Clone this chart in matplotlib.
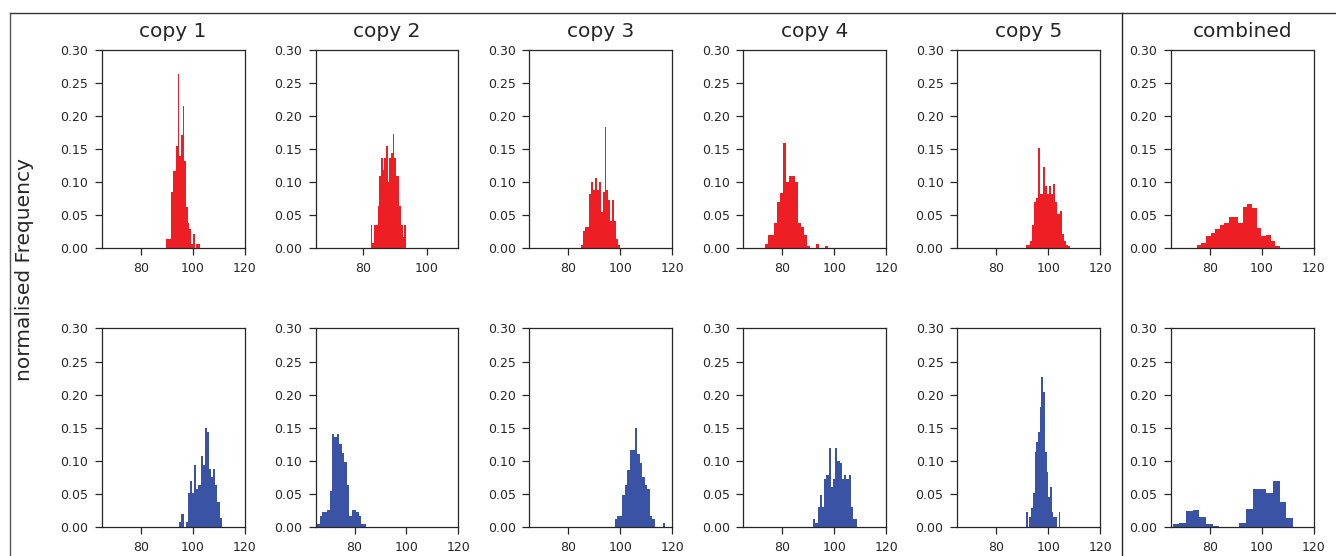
import numpy as np
import matplotlib
matplotlib.use("Agg")
import matplotlib.pyplot as plt
from matplotlib.lines import Line2D
from matplotlib.ticker import FormatStrFormatter

titles = ["copy 1", "copy 2", "copy 3", "copy 4", "copy 5", "combined"]

# top row: normalised bin heights
red_copy1 = [0.015, 0.015, 0.015, 0.085, 0.117, 0.117, 0.155, 0.264, 0.14, 0.171,
             0.216, 0.132, 0.062, 0.038, 0.03, 0.007, 0.022, 0.0, 0.007, 0.007]
red_copy2 = [0.036, 0.009, 0.036, 0.036, 0.064, 0.11, 0.136, 0.118, 0.136, 0.155, 0.10,
             0.136, 0.145, 0.173, 0.136, 0.11, 0.11, 0.064, 0.036, 0.018, 0.036]
red_copy3 = [0.006, 0.027, 0.033, 0.033, 0.082, 0.10, 0.088, 0.107, 0.088, 0.10,
             0.055, 0.085, 0.184, 0.088, 0.074, 0.041, 0.074, 0.041, 0.014, 0.006]
red_copy4 = [0.007, 0.021, 0.021, 0.038, 0.071, 0.084, 0.159, 0.10, 0.109, 0.109, 0.10,
             0.038, 0.033, 0.02, 0.004, 0.0, 0.0, 0.007, 0.0, 0.0, 0.004]
red_copy5 = [0.006, 0.006, 0.012, 0.035, 0.07, 0.076, 0.152, 0.083, 0.123, 0.095, 0.083,
             0.094, 0.083, 0.098, 0.07, 0.052, 0.057, 0.022, 0.012, 0.006, 0.004]
red_combined = [0.001, 0.005, 0.008, 0.019, 0.024, 0.030, 0.036, 0.038, 0.047, 0.048,
                0.038, 0.062, 0.067, 0.061, 0.031, 0.019, 0.020, 0.011, 0.003, 0.001]
red_ranges = [(89.7, 102.7), (82.4, 93.5), (84.9, 99.9), (73.3, 97.45), (91.3, 108.5), (73.1, 108.6)]
red_xlims = [(65, 120), (65, 110), (65, 120), (65, 120), (65, 120), (65, 120)]

# bottom row
blue_copy1 = [0.007, 0.019, 0.0, 0.007, 0.051, 0.069, 0.051, 0.094, 0.057, 0.063,
              0.107, 0.094, 0.150, 0.143, 0.087, 0.075, 0.087, 0.063, 0.038, 0.013]
blue_copy2 = [0.005, 0.016, 0.022, 0.022, 0.026, 0.054, 0.140, 0.136, 0.140, 0.125,
              0.112, 0.098, 0.064, 0.016, 0.026, 0.026, 0.022, 0.016, 0.005, 0.005]
blue_copy3 = [0.012, 0.016, 0.016, 0.048, 0.064, 0.086, 0.117, 0.117, 0.149, 0.111,
              0.096, 0.075, 0.064, 0.058, 0.016, 0.012, 0.0, 0.0, 0.0, 0.006]
blue_copy4 = [0.012, 0.006, 0.030, 0.048, 0.030, 0.072, 0.078, 0.119, 0.060, 0.072,
              0.119, 0.10, 0.096, 0.072, 0.078, 0.072, 0.078, 0.030, 0.012, 0.012]
blue_copy5 = [0.022, 0.0, 0.015, 0.029, 0.051, 0.113, 0.128, 0.143, 0.181, 0.226,
              0.204, 0.113, 0.083, 0.045, 0.060, 0.022, 0.015, 0.015, 0.0, 0.022]
blue_combined = [0.004, 0.006, 0.024, 0.025, 0.015, 0.004, 0.002, 0.0, 0.0, 0.0,
                 0.006, 0.027, 0.057, 0.058, 0.051, 0.069, 0.037, 0.013]
blue_ranges = [(94.9, 111.2), (65.7, 84.5), (97.8, 117.2), (91.9, 108.9), (91.5, 104.7), (65.6, 111.9)]
blue_xlims = [(65, 120)] * 6

rows = [
    ([red_copy1, red_copy2, red_copy3, red_copy4, red_copy5, red_combined], red_ranges, red_xlims, "#ED1F24"),
    ([blue_copy1, blue_copy2, blue_copy3, blue_copy4, blue_copy5, blue_combined], blue_ranges, blue_xlims, "#3A53A4"),
]

dark = "#262626"
plt.rcParams["font.family"] = ["DejaVu Sans"]

fig, axes = plt.subplots(2, 6, figsize=(13.36, 5.56), dpi=100)
fig.subplots_adjust(left=0.0761, right=0.9835, top=0.9101, bottom=0.0522,
                    wspace=0.497, hspace=0.403)

for r, (freqs, ranges, xlims, color) in enumerate(rows):
    for c in range(6):
        ax = axes[r, c]
        lo, hi = ranges[c]
        edges = np.linspace(lo, hi, len(freqs[c]) + 1)
        ax.hist(edges[:-1], bins=edges, weights=freqs[c], color=color)
        ax.set_xlim(*xlims[c])
        ax.set_ylim(0, 0.30)
        ax.set_xticks([t for t in (80, 100, 120) if t <= xlims[c][1]])
        ax.set_yticks(np.arange(0, 0.301, 0.05))
        ax.yaxis.set_major_formatter(FormatStrFormatter("%.2f"))
        ax.tick_params(direction="out", length=4.8, width=0.9, pad=5,
                       labelsize=9, colors=dark)
        for sp in ax.spines.values():
            sp.set_color(dark)
            sp.set_linewidth(0.9)
        if r == 0:
            ax.set_title(titles[c], fontsize=14.5, pad=9, color=dark)

fig.text(25 / 1336, 0.516, "normalised Frequency", rotation=90,
         ha="center", va="center", fontsize=14.5, color=dark)

# frame round the copies and separator before the combined column
ytop = 1 - 13 / 556
fig.add_artist(Line2D([9.5 / 1336, 1.0], [ytop, ytop], transform=fig.transFigure, color="#333333", lw=1))
fig.add_artist(Line2D([9.5 / 1336, 9.5 / 1336], [ytop, 0], transform=fig.transFigure, color="#555555", lw=1))
fig.add_artist(Line2D([1121.5 / 1336, 1121.5 / 1336], [ytop, 0], transform=fig.transFigure, color="#222222", lw=1))

fig.savefig("out.png", dpi=100)
